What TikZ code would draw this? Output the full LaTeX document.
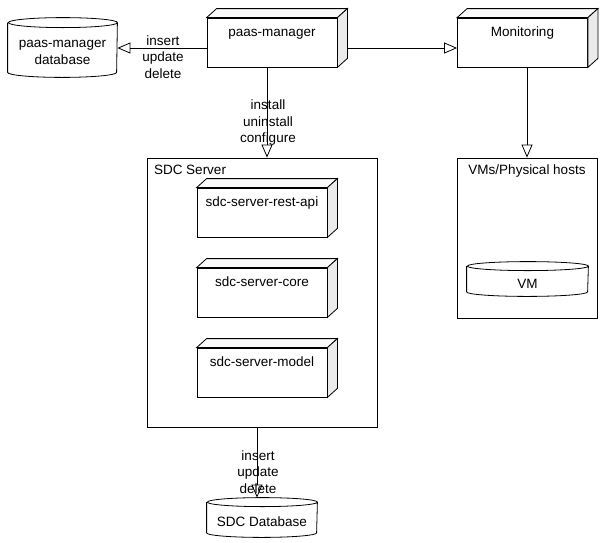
\documentclass[tikz,border=0pt]{standalone}
\usepackage{fontspec}
\setmainfont{Liberation Sans}
\usetikzlibrary{arrows.meta}

% 3d faces of a deployment node
\newcommand\nodeside[1]{%
  \draw[fill=gray!4] (#1.north west) -- ++(10pt,9pt) -- ([shift={(10pt,9pt)}]#1.north east) -- (#1.north east) -- cycle;
  \draw[fill=gray!16] (#1.north east) -- ++(10pt,9pt) -- ([shift={(10pt,9pt)}]#1.south east) -- (#1.south east) -- cycle;}
% database drum round a node: name, x radius, y radius
\newcommand\dbshape[3]{%
  \draw ([yshift=#3]#1.north west) -- ([yshift=#3]#1.south west)
    arc[start angle=180,end angle=360,x radius=#2,y radius=#3] -- ([yshift=#3]#1.north east)
    arc[start angle=0,end angle=360,x radius=#2,y radius=#3];}

\tikzset{
  box/.style={draw, fill=white, minimum width=130pt, inner sep=0pt, text height=18pt, text depth=31pt},
  grp/.style={draw, inner sep=0pt},
  db/.style={inner sep=0pt, align=center},
  lbl/.style={align=center, inner sep=0pt},
  arr/.style={-{Triangle[open,length=13pt,width=11pt]}}
}

\begin{document}
\begin{tikzpicture}[x=1pt,y=-1pt, line width=0.8pt, font=\fontsize{13.5}{16.5}\selectfont]
  \useasboundingbox[fill=white] (0,0) rectangle (605,542);

  \node[box] (pm) at (272,42.5) {paas-manager};
  \node[box] (mon) at (522.5,42.5) {Monitoring};
  \nodeside{pm} \nodeside{mon}

  \node[db, minimum width=109pt, minimum height=49pt] (pmdb) at (62.5,52.5) {paas-manager\\database};
  \dbshape{pmdb}{54.5pt}{5pt}

  \node[grp, minimum width=230pt, minimum height=269pt,
    label={[anchor=north west, inner sep=0pt, shift={(7pt,-7pt)}]north west:SDC Server}] (sdc) at (262,292.5) {};
  \node[grp, minimum width=140pt, minimum height=160pt,
    label={[anchor=north, inner sep=0pt, yshift=-7pt]north:VMs/Physical hosts}] (vms) at (527,238) {};

  \node[box] (api) at (262,212.5) {sdc-server-rest-api};
  \node[box] (core) at (262,292.5) {sdc-server-core};
  \node[box] (model) at (262,372.5) {sdc-server-model};
  \nodeside{api} \nodeside{core} \nodeside{model}

  \node[db, minimum width=121pt, minimum height=25pt] (vm) at (527.5,283.5) {VM};
  \dbshape{vm}{60.5pt}{4.5pt}
  \node[db, minimum width=110pt, minimum height=30pt] (sdcdb) at (262,522) {SDC Database};
  \dbshape{sdcdb}{55pt}{4.5pt}

  % connectors
  \coordinate (pmleft) at ([yshift=-5.5pt]pm.west);
  \coordinate (pmright) at ([shift={(10pt,-5.5pt)}]pm.east);
  \coordinate (pmdown) at ([xshift=-5pt]pm.south);
  \coordinate (sdcdown) at ([xshift=-5pt]sdc.south);
  \coordinate (dbtop) at ([yshift=9pt]sdcdb.north);
  \draw[arr] (pmleft) -- (pmleft -| pmdb.east);
  \draw[arr] (pmright) -- (pmright -| mon.west);
  \draw[arr] (pmdown) -- (pmdown |- sdc.north);
  \draw[arr] (vms.north |- mon.south) -- (vms.north);
  \draw[arr] (sdcdown) -- (sdcdown |- dbtop);

  \node[lbl] (crud1) at (163,57) {insert\\update\\delete};
  \node[lbl] (ops) at (268,123) {install\\uninstall\\configure};
  \node[lbl] (crud2) at (258,472) {insert\\update\\delete};
\end{tikzpicture}
\end{document}
